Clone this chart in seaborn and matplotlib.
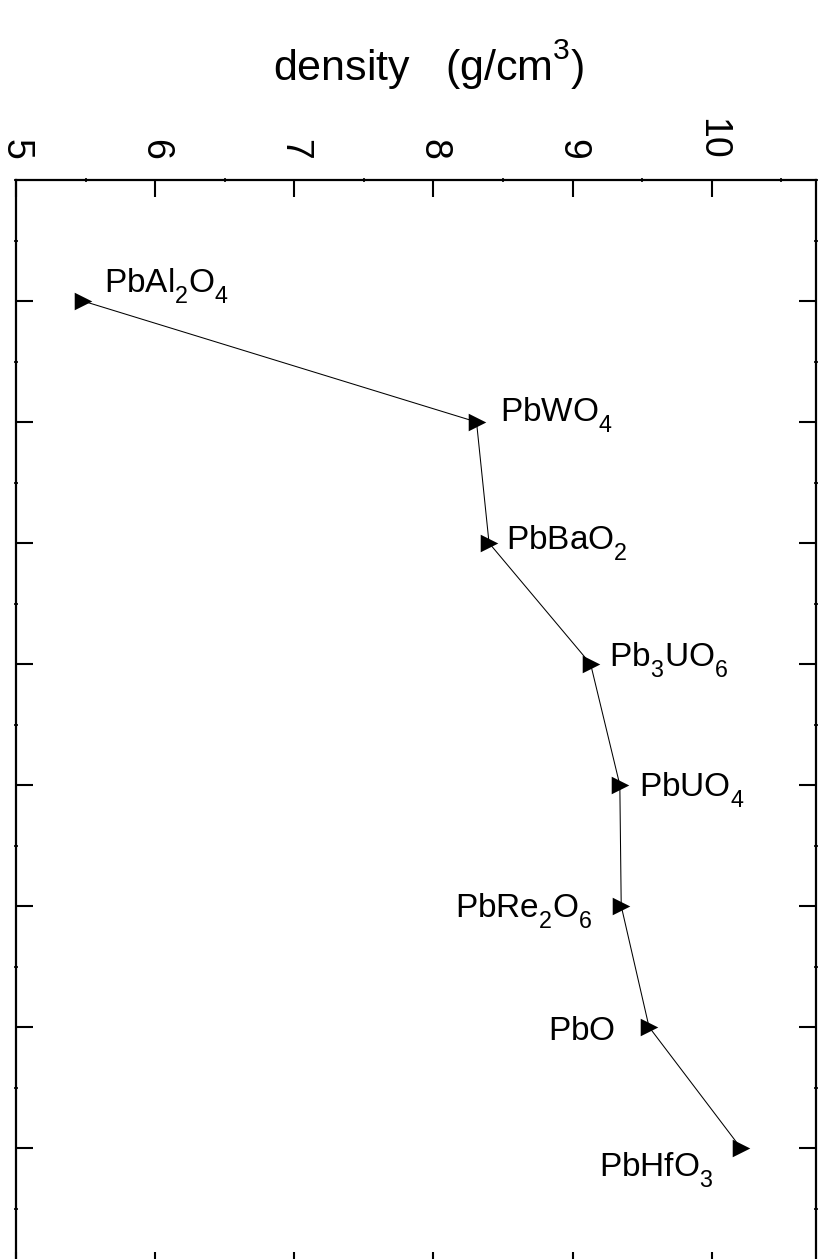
import matplotlib
matplotlib.use("Agg")
import matplotlib.pyplot as plt
from matplotlib.ticker import MultipleLocator, FixedLocator
from matplotlib import _mathtext
import seaborn as sns
import pandas as pd

# Lead compounds and their densities (g/cm^3)
compounds = [r"$\mathrm{PbAl_2O_4}$", r"$\mathrm{PbWO_4}$", r"$\mathrm{PbBaO_2}$",
             r"$\mathrm{Pb_3UO_6}$", r"$\mathrm{PbUO_4}$", r"$\mathrm{PbRe_2O_6}$",
             r"$\mathrm{PbO}$", r"$\mathrm{PbHfO_3}$"]
density = [5.48, 8.31, 8.40, 9.13, 9.34, 9.35, 9.55, 10.21]
rank = [1, 2, 3, 4, 5, 6, 7, 8]
density_ticks = [5, 6, 7, 8, 9, 10]

# label placement: offset in pixels from each marker (dx right, dy down)
label_offsets = [(21.7, -9), (23.7, -1), (17.4, 6.7), (18.1, 2.7),
                 (18.8, 11.7), (-28.2, 11.3), (-34, 13), (-27.3, 28.3)]

sns.set_theme(style="white")
plt.rcParams["font.family"] = ["Liberation Sans", "DejaVu Sans"]
plt.rcParams["mathtext.fontset"] = "custom"
plt.rcParams["mathtext.rm"] = "Liberation Sans"
plt.rcParams["mathtext.it"] = "Liberation Sans:italic"
plt.rcParams["mathtext.bf"] = "Liberation Sans:bold"
# deeper subscripts / higher superscripts, chemistry-label style
_mathtext.FontConstantsBase.sub1 = 0.65
_mathtext.FontConstantsBase.sub2 = 0.8
_mathtext.FontConstantsBase.sup1 = 0.9

df = pd.DataFrame({"compound": compounds, "density": density, "rank": rank})

W, H = 822, 1259
fig = plt.figure(figsize=(W / 100, H / 100), dpi=100)
ax = fig.add_axes([16 / W, (H - 1269) / H, 800 / W, 1089 / H])

sns.lineplot(data=df, x="density", y="rank", sort=False, estimator=None,
             color="black", linewidth=0.75, ax=ax)
sns.scatterplot(data=df, x="density", y="rank", marker=">", s=160,
                color="black", edgecolor="black", linewidth=0, zorder=3, ax=ax)

ax.set_xlim(5, 10.75)
ax.set_ylim(9, 0)
ax.set_xlabel("")
ax.set_ylabel("")

# x axis on top, rotated tick labels
ax.xaxis.set_major_locator(FixedLocator(density_ticks))
ax.xaxis.set_minor_locator(MultipleLocator(0.5))
ax.set_xticklabels([str(t) for t in density_ticks])
ax.yaxis.set_major_locator(FixedLocator(rank))
ax.yaxis.set_minor_locator(MultipleLocator(0.5))
ax.set_yticklabels([])

ax.tick_params(axis="x", which="major", top=True, bottom=True, labeltop=True,
               labelbottom=False, direction="in", length=12.2, width=1.5,
               color="black", pad=14.4, labelsize=27, labelrotation=-90,
               labelcolor="black")
ax.tick_params(axis="y", which="major", left=True, right=True, labelleft=False,
               labelright=False, direction="in", length=12.2, width=1.5,
               color="black")
ax.tick_params(which="minor", top=True, bottom=True, left=True, right=True,
               direction="inout", length=2.5, width=1.2, color="black")

for side in ax.spines.values():
    side.set_visible(True)
    side.set_color("black")
    side.set_linewidth(1.6)

# compound labels next to the markers
for name, x, y, (dx, dy) in zip(compounds, density, rank, label_offsets):
    ax.annotate(name, xy=(x, y), xytext=(dx * 0.72, -dy * 0.72),
                textcoords="offset points", fontsize=24, color="black",
                ha="left" if dx > 0 else "right", va="baseline")

fig.text(428.5 / W, 1 - 80 / H, r"density   (g/cm$^3$)", ha="center",
         va="baseline", fontsize=31, color="black")

fig.savefig("out.png", dpi=100, facecolor="white")
